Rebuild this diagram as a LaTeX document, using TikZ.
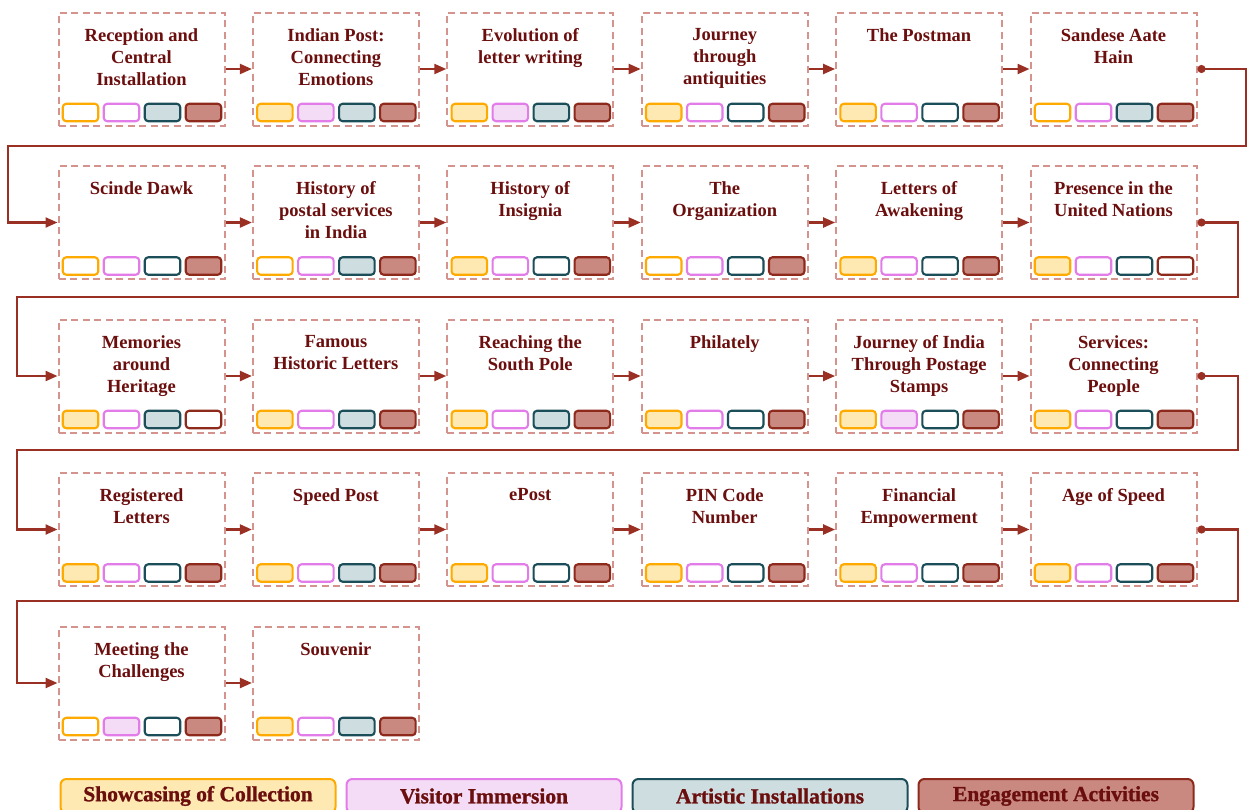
\documentclass[tikz,border=0pt]{standalone}
\usepackage{fontspec}
\setmainfont{Liberation Serif}
\newfontfamily\keyfont[BoldFeatures={FakeBold=1.2}]{Liberation Serif}
\usetikzlibrary{arrows.meta}

\definecolor{txt}{HTML}{6B0E0E}
\definecolor{dashc}{HTML}{D4938D}
\definecolor{flowc}{HTML}{9A3024}
\definecolor{ybord}{HTML}{FFAA00}
\definecolor{yfill}{HTML}{FFE9B3}
\definecolor{pbord}{HTML}{E27CE8}
\definecolor{pfill}{HTML}{F4DCF6}
\definecolor{tbord}{HTML}{1B4E58}
\definecolor{tfill}{HTML}{CEDDE0}
\definecolor{rbord}{HTML}{8E2A1B}
\definecolor{rfill}{HTML}{C98880}

\begin{document}
\begin{tikzpicture}[x=1pt,y=-1pt,
  stopbox/.style={draw=dashc, line width=2pt, dash pattern=on 7pt off 4.5pt,
    minimum width=166pt, minimum height=113pt, inner sep=0pt},
  title/.style={text=txt, font=\bfseries\fontsize{18.5}{22}\selectfont,
    align=center, inner sep=0pt, anchor=north},
  tag/.style={rounded corners=3.5pt, line width=2.1pt, minimum width=35.5pt,
    minimum height=17.5pt, inner sep=0pt},
  Y0/.style={fill=white}, Y1/.style={fill=yfill},
  P0/.style={fill=white}, P1/.style={fill=pfill},
  T0/.style={fill=white}, T1/.style={fill=tfill},
  R0/.style={fill=white}, R1/.style={fill=rfill},
  flow/.style={draw=flowc, line width=2.2pt, -{Triangle[length=12pt,width=10pt]}},
  turn/.style={draw=flowc, line width=2.2pt,
    {Circle[length=8pt]}-{Triangle[length=12pt,width=10pt]}},
  legend/.style={rounded corners=6pt, line width=2pt, minimum width=275pt,
    minimum height=34pt, inner sep=0pt, text=txt,
    font=\keyfont\bfseries\fontsize{21.5}{24}\selectfont}
]
\useasboundingbox (0,0) rectangle (1250,809);

% gallery stops with their four category tags
\foreach \i/\t/\ya/\pa/\ta/\ra in {
  0/{Reception and\\Central\\Installation}/0/0/1/1,
  1/{Indian Post:\\Connecting\\Emotions}/1/1/1/1,
  2/{Evolution of\\letter writing}/1/1/1/1,
  3/{Journey\\through\\antiquities}/1/0/0/1,
  4/{The Postman}/1/0/0/1,
  5/{Sandese Aate\\Hain}/0/0/1/1,
  6/{Scinde Dawk}/0/0/0/1,
  7/{History of\\postal services\\in India}/0/0/1/1,
  8/{History of\\Insignia}/1/0/0/1,
  9/{The\\Organization}/0/0/0/1,
  10/{Letters of\\Awakening}/1/0/0/1,
  11/{Presence in the\\United Nations}/1/0/0/0,
  12/{Memories\\around\\Heritage}/1/0/1/0,
  13/{Famous\\Historic Letters}/1/0/1/1,
  14/{Reaching the\\South Pole}/1/0/1/1,
  15/{Philately}/1/0/0/1,
  16/{Journey of India\\Through Postage\\Stamps}/1/1/0/1,
  17/{Services:\\Connecting\\People}/1/0/0/1,
  18/{Registered\\Letters}/1/0/0/1,
  19/{Speed Post}/1/0/1/1,
  20/{ePost}/1/0/0/1,
  21/{PIN Code\\Number}/1/0/0/1,
  22/{Financial\\Empowerment}/1/0/0/1,
  23/{Age of Speed}/1/0/0/1,
  24/{Meeting the\\Challenges}/0/1/0/1,
  25/{Souvenir}/1/0/1/1}{
  \pgfmathtruncatemacro\col{mod(\i,6)}
  \pgfmathtruncatemacro\row{int(\i/6)}
  \pgfmathsetmacro\cx{141.5+194.4*\col}
  \pgfmathsetmacro\cy{69+153.5*\row}
  \node[stopbox] (b\i) at (\cx,\cy) {};
  \node[title] (h\i) at (\cx,\cy-41) {\t};
  \node[tag, draw=ybord, Y\ya] (y\i) at (\cx-61,\cy+43.5) {};
  \node[tag, draw=pbord, P\pa] (p\i) at (\cx-20,\cy+43.5) {};
  \node[tag, draw=tbord, T\ta] (t\i) at (\cx+21,\cy+43.5) {};
  \node[tag, draw=rbord, R\ra] (r\i) at (\cx+62,\cy+43.5) {};
}

% arrows within each row
\foreach \i in {0,...,24}{
  \pgfmathtruncatemacro\col{mod(\i,6)}
  \pgfmathtruncatemacro\j{\i+1}
  \ifnum\col<5
    \draw[flow] (b\i.east) -- (b\j.west);
  \fi
}

% turn-around connectors between rows
\coordinate (a1) at (1246,146); \coordinate (a2) at (8,146);
\coordinate (c1) at (1238,297); \coordinate (c2) at (17,297);
\coordinate (d1) at (1238,450); \coordinate (d2) at (17,450);
\coordinate (e1) at (1238,601); \coordinate (e2) at (17,601);
\draw[turn] (b5.east) -| (a1) -- (a2) |- (b6.west);
\draw[turn] (b11.east) -| (c1) -- (c2) |- (b12.west);
\draw[turn] (b17.east) -| (d1) -- (d2) |- (b18.west);
\draw[turn] (b23.east) -| (e1) -- (e2) |- (b24.west);

% legend
\node[legend, draw=ybord, fill=yfill] (l1) at (198,796) {Showcasing of Collection};
\node[legend, draw=pbord, fill=pfill] (l2) at (484,796) {Visitor Immersion};
\node[legend, draw=tbord, fill=tfill] (l3) at (770,796) {Artistic Installations};
\node[legend, draw=rbord, fill=rfill] (l4) at (1056,796) {Engagement Activities};
\end{tikzpicture}
\end{document}
